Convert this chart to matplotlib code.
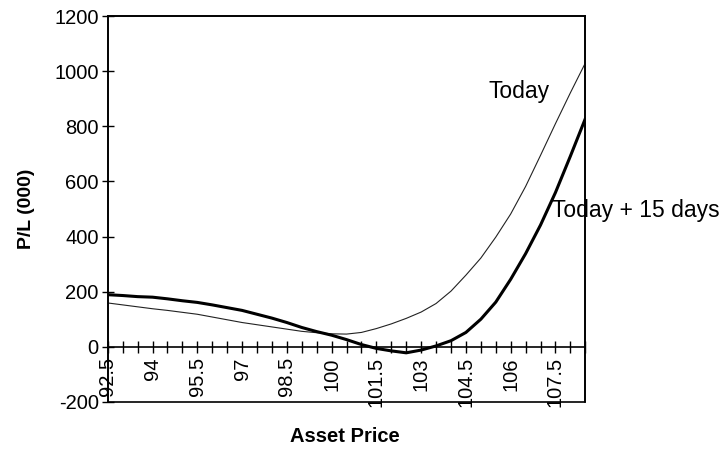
import numpy as np
import matplotlib.pyplot as plt
from matplotlib.patches import Rectangle

plt.rcParams['font.family'] = ['Liberation Sans', 'DejaVu Sans']
plt.rcParams['axes.unicode_minus'] = False

# asset price grid (categories every 0.5)
price = [92.5, 93, 93.5, 94, 94.5, 95, 95.5, 96, 96.5, 97, 97.5, 98, 98.5, 99, 99.5,
         100, 100.5, 101, 101.5, 102, 102.5, 103, 103.5, 104, 104.5, 105, 105.5,
         106, 106.5, 107, 107.5, 108, 108.5]
# P/L (000)
today = [159, 152, 145, 138, 132, 125, 118, 108, 98, 88, 80, 72, 64, 56, 51,
         47, 46, 52, 66, 83, 103, 126, 157, 202, 260, 322, 398,
         482, 582, 695, 810, 922, 1030]
today_15 = [189, 186, 182, 180, 174, 167, 161, 152, 142, 132, 118, 104, 88, 70, 55,
            42, 26, 8, -6, -15, -22, -12, 3, 22, 52, 100, 162,
            245, 338, 442, 560, 692, 828]
xlabels = ['92.5', '94', '95.5', '97', '98.5', '100', '101.5', '103', '104.5', '106', '107.5']

fig = plt.figure(figsize=(7.28, 4.5), dpi=100)
ax = fig.add_axes([0.148, 0.107, 0.656, 0.857])

ax.plot(price, today, color='#222222', lw=0.8)
ax.plot(price, today_15, color='black', lw=2.2)

ax.set_xlim(92.5, 108.5)
ax.set_ylim(-200, 1200)

# x axis crosses at 0, plot area keeps its border
ax.spines['bottom'].set_position(('data', 0))
for s in ax.spines.values():
    s.set_linewidth(1.2)
ax.add_patch(Rectangle((0, 0), 1, 1, transform=ax.transAxes, fill=False,
                       lw=1.2, edgecolor='black', clip_on=False))

ax.set_xticks([float(v) for v in xlabels])
ax.set_xticklabels(xlabels, rotation=90, fontsize=14.5)
ax.set_xticks(price, minor=True)
ax.tick_params(axis='x', which='both', direction='inout', length=9, width=1, pad=3)
ax.set_yticks(np.arange(-200, 1201, 200))
ax.tick_params(axis='y', direction='inout', length=9, width=1, labelsize=14.5, pad=2)

ax.set_ylabel('P/L (000)', fontsize=14, fontweight='bold', labelpad=14)
fig.text(0.474, 0.03, 'Asset Price', ha='center', va='center',
         fontsize=14.5, fontweight='bold')

ax.text(105.25, 925, 'Today', fontsize=16.5, ha='left', va='center')
ax.text(107.4, 495, 'Today + 15 days', fontsize=16.5, ha='left', va='center', clip_on=False)

fig.savefig('out.png', dpi=100)
